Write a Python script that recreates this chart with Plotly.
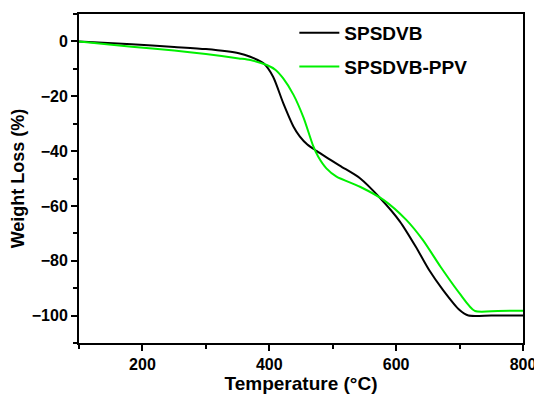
import plotly.graph_objects as go

temp_spsdvb = [100, 183, 250, 300, 352, 370, 391, 406, 422, 438, 448, 460, 475, 511, 543, 575, 606, 631, 652, 674, 700, 714, 750, 800]
loss_spsdvb = [0, -1.0, -2.0, -2.8, -4.3, -5.6, -8.0, -12.9, -22.5, -31.0, -34.6, -37.6, -40.0, -45.3, -49.9, -57.2, -65.7, -74.9, -83.4, -90.7, -98.0, -100, -100, -100]

temp_ppv = [100, 183, 250, 300, 352, 370, 396, 410, 422, 438, 454, 469, 477, 490, 506, 543, 580, 616, 642, 670, 700, 724, 760, 800]
loss_ppv = [0, -1.9, -3.3, -4.6, -6.2, -6.8, -8.6, -10.4, -13.5, -19.4, -27.8, -38.0, -42.0, -46.3, -49.3, -53.0, -57.8, -65.1, -72.4, -82.2, -91.9, -98.3, -98.3, -98.2]

series_names = ["SPSDVB", "SPSDVB-PPV"]
x_ticks = [200, 400, 600, 800]
y_ticks = [0, -20, -40, -60, -80, -100]

fig = go.Figure()
fig.add_trace(go.Scatter(x=temp_spsdvb, y=loss_spsdvb, mode="lines", name=series_names[0],
                         legendgroup="a",
                         line=dict(color="#000000", width=2, shape="spline", smoothing=0.7)))
fig.add_trace(go.Scatter(x=temp_ppv, y=loss_ppv, mode="lines", name=series_names[1],
                         legendgroup="b",
                         line=dict(color="#00F000", width=2, shape="spline", smoothing=0.7)))

tickfont = dict(family="Liberation Sans, Arial", size=16, color="black", weight="bold")
axis_common = dict(showline=True, linecolor="black", linewidth=2, mirror=True,
                   ticks="outside", ticklen=6, tickwidth=2, tickcolor="black",
                   showgrid=False, zeroline=False, automargin=False,
                   ticklabeloverflow="allow",
                   tickfont=tickfont)

# the page body adds an 8px offset, so the figure is 8px smaller and margins compensate
fig.update_layout(
    width=534, height=390,
    margin=dict(l=71, r=19, t=6, b=55),
    paper_bgcolor="white", plot_bgcolor="white",
    font=dict(family="Liberation Sans, Arial", color="black"),
    showlegend=True,
    legend=dict(x=0.485, y=1.0, xanchor="left", yanchor="top",
                bgcolor="rgba(0,0,0,0)", borderwidth=0,
                font=dict(size=19, family="Liberation Sans, Arial", color="black", weight="bold"),
                itemwidth=40, tracegroupgap=6),
    xaxis=dict(range=[100, 800], tickvals=x_ticks,
               minor=dict(ticks="outside", ticklen=4, tickwidth=2, tickcolor="black", dtick=100, tick0=100),
               title=dict(text="Temperature (°C)", font=dict(size=19, weight="bold"), standoff=0),
               **axis_common),
    yaxis=dict(range=[-110, 10], tickvals=y_ticks,
               minor=dict(ticks="outside", ticklen=4, tickwidth=2, tickcolor="black", dtick=10, tick0=0),
               title=dict(text="Weight Loss (%)", font=dict(size=18, weight="bold"), standoff=2),
               **axis_common),
)

fig.write_html("out.html")
